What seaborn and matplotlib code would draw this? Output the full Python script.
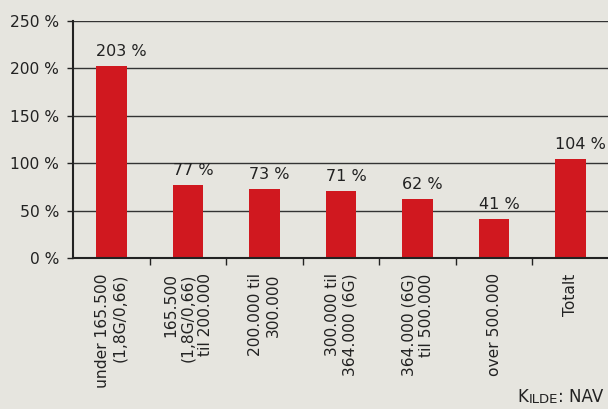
import matplotlib
matplotlib.use("Agg")
import matplotlib.pyplot as plt
import seaborn as sns
import pandas as pd

# Income groups and share values (percent)
categories = [
    "under 165.500\n(1,8G/0,66)",
    "165.500\n(1,8G/0,66)\ntil 200.000",
    "200.000 til\n300.000",
    "300.000 til\n364.000 (6G)",
    "364.000 (6G)\ntil 500.000",
    "over 500.000",
    "Totalt",
]
values = [203, 77, 73, 71, 62, 41, 104]
y_ticks = [0, 50, 100, 150, 200, 250]
y_tick_labels = [f"{v} %" for v in y_ticks]

BG = "#E6E5DF"
RED = "#D0181F"
INK = "#222222"

sns.set_theme(style="white")
plt.rcParams["font.family"] = ["DejaVu Sans"]

fig = plt.figure(figsize=(6.08, 4.09), dpi=100, facecolor=BG)
ax = fig.add_axes([73 / 608, 151 / 409, 536 / 608, 237 / 409])
ax.set_facecolor(BG)

df = pd.DataFrame({"cat": categories, "val": values})
sns.barplot(data=df, x="cat", y="val", color=RED, width=0.4,
            saturation=1, linewidth=0, ax=ax, zorder=3)

ax.set_xlim(-0.5, len(categories) - 0.5)
ax.set_ylim(0, 250)
ax.set_yticks(y_ticks)
ax.set_yticklabels(y_tick_labels, fontsize=11.2, color=INK)
ax.yaxis.grid(True, color="#333333", linewidth=1.0, zorder=0)
ax.xaxis.grid(False)
ax.set_axisbelow(True)

ax.set_xlabel("")
ax.set_ylabel("")
ax.set_xticks(range(len(categories)))
ax.set_xticklabels(categories, rotation=90, fontsize=11.2, color=INK,
                   multialignment="right", va="top", ha="center")
ax.tick_params(axis="x", which="major", length=0, pad=11)
ax.set_xticks([i + 0.5 for i in range(len(categories) - 1)], minor=True)
ax.tick_params(axis="x", which="minor", length=5, width=1, color=INK,
               direction="out", bottom=True)
ax.tick_params(axis="y", length=4, width=1, color=INK, direction="out",
               left=True, pad=6)

for side in ["top", "right"]:
    ax.spines[side].set_visible(False)
for side in ["left", "bottom"]:
    ax.spines[side].set_color(INK)
    ax.spines[side].set_linewidth(1.5)
    ax.spines[side].set_zorder(4)

# Value labels above each bar, starting at the bar's left edge
for i, v in enumerate(values):
    ax.annotate(f"{v} %", xy=(i - 0.2, v), xytext=(0, 5),
                textcoords="offset points", ha="left", va="bottom",
                fontsize=11.5, color=INK)

# Source note in small capitals, anchored to the right edge
t_nav = fig.text(603 / 608, 3 / 409, ": NAV", fontsize=12, color=INK,
                 ha="right", va="bottom")
t_ilde = ax.annotate("ILDE", xy=(0, 0), xycoords=t_nav, ha="right",
                     va="bottom", fontsize=9.5, color=INK,
                     annotation_clip=False)
ax.annotate("K", xy=(0, 0), xycoords=t_ilde, ha="right", va="bottom",
            fontsize=12, color=INK, annotation_clip=False)

fig.savefig("out.png", dpi=100, facecolor=BG)
